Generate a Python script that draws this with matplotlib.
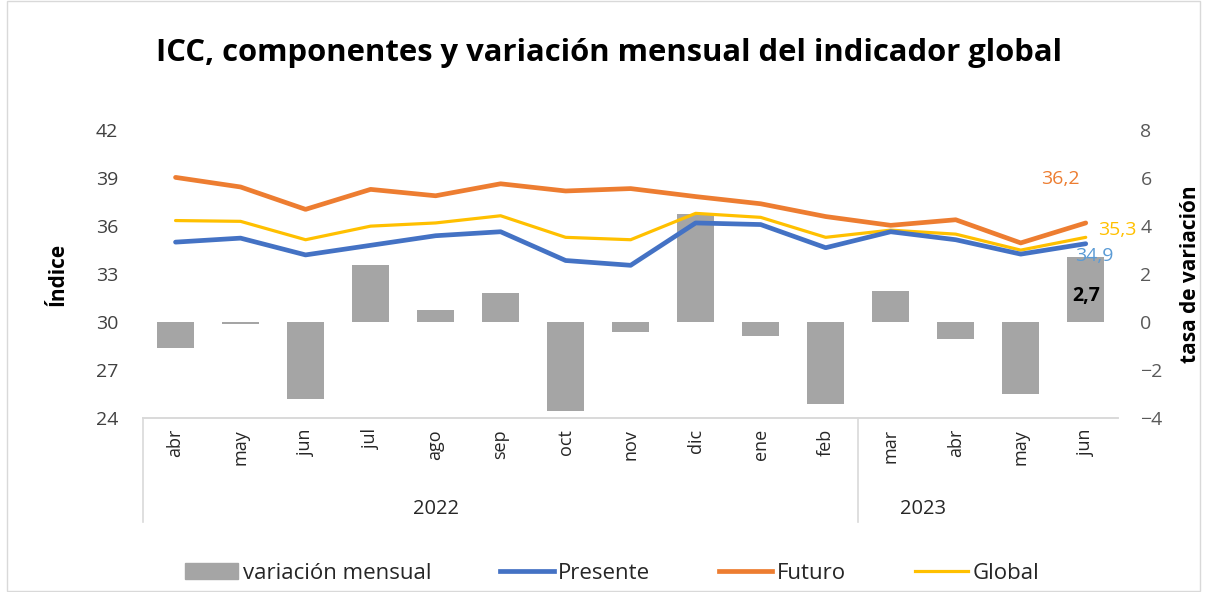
import matplotlib.pyplot as plt
from matplotlib.patches import Patch, Rectangle
from matplotlib.lines import Line2D
import matplotlib.transforms as mtransforms

plt.rcParams['font.family'] = ['Open Sans', 'DejaVu Sans']

meses = ['abr', 'may', 'jun', 'jul', 'ago', 'sep', 'oct', 'nov', 'dic',
         'ene', 'feb', 'mar', 'abr', 'may', 'jun']
anios = ['2022', '2023']
# index ranges of each year (for centring its label) and where the box divider sits
anio_rango = [(0, 8), (9, 14)]
divisor = 10.5

variacion = [-1.1, -0.1, -3.2, 2.4, 0.5, 1.2, -3.7, -0.4, 4.5, -0.6, -3.4,
             1.3, -0.7, -3.0, 2.7]
presente = [35.0, 35.25, 34.2, 34.8, 35.4, 35.65, 33.85, 33.55, 36.2, 36.1,
            34.65, 35.65, 35.15, 34.25, 34.9]
futuro = [39.05, 38.45, 37.05, 38.3, 37.9, 38.65, 38.2, 38.35, 37.85, 37.4,
          36.6, 36.05, 36.4, 34.95, 36.2]
glob = [36.35, 36.3, 35.15, 36.0, 36.2, 36.65, 35.3, 35.15, 36.8, 36.55,
        35.3, 35.75, 35.5, 34.5, 35.3]

c_bar = '#A5A5A5'
c_pre = '#4472C4'
c_fut = '#ED7D31'
c_glo = '#FFC000'

fig = plt.figure(figsize=(12.05, 5.92), dpi=100)
fig.patches.append(Rectangle((0.006, 0.002), 0.99, 0.996, transform=fig.transFigure,
                             fill=False, edgecolor='#D9D9D9', linewidth=1))

ax = fig.add_axes([0.1187, 0.294, 0.8093, 0.486])
x = list(range(len(meses)))

# bars on right axis (drawn below lines)
ax.bar(x, variacion, width=0.57, color=c_bar, zorder=2)
ax.set_ylim(-4, 8)
ax.set_yticks([-4, -2, 0, 2, 4, 6, 8])
ax.text(14, 1.1, '2,7', ha='center', va='center', fontsize=14, fontweight='bold',
        color='black', zorder=5)

ax2 = ax.twinx()
ax2.plot(x, futuro, color=c_fut, linewidth=3.4, solid_capstyle='round')
ax2.plot(x, glob, color=c_glo, linewidth=2.3, solid_capstyle='round')
ax2.plot(x, presente, color=c_pre, linewidth=3.4, solid_capstyle='round')
ax2.set_ylim(24, 42)
ax2.set_yticks([24, 27, 30, 33, 36, 39, 42])

# twinx moves the first axis ticks to the left, so swap sides after it
ax.yaxis.tick_right()
ax.yaxis.set_label_position('right')
ax.tick_params(axis='y', length=0, labelsize=14, labelcolor='#595959', pad=16)
ax.set_ylabel('tasa de variación', fontsize=15, fontweight='bold', labelpad=12)
ax2.yaxis.tick_left()
ax2.yaxis.set_label_position('left')
ax2.tick_params(axis='y', length=0, labelsize=14, labelcolor='#404040', pad=18)
ax2.set_ylabel('Índice', fontsize=15, fontweight='bold', labelpad=20)

ax2.annotate('36,2', (14, futuro[-1]), xytext=(-18, 32), textcoords='offset points',
             ha='center', va='center', fontsize=14, color=c_fut)
ax2.annotate('35,3', (14, glob[-1]), xytext=(9, 5), textcoords='offset points',
             ha='left', va='center', fontsize=14, color=c_glo)
ax2.annotate('34,9', (14, presente[-1]), xytext=(6, -9), textcoords='offset points',
             ha='center', va='center', fontsize=14, color='#5B9BD5')

for a in (ax, ax2):
    for s in ('top', 'left', 'right'):
        a.spines[s].set_visible(False)
    a.spines['bottom'].set_color('#D9D9D9')
    a.spines['bottom'].set_linewidth(1.2)

ax.set_xlim(-0.5, len(meses) - 0.5)
ax.set_xticks(x)
ax.set_xticklabels(meses, rotation=90, fontsize=13, color='#262626')
ax.tick_params(axis='x', length=0, pad=8)

# year groups below the month labels
trans = mtransforms.blended_transform_factory(ax.transData, ax.transAxes)
for xv in (-0.5, divisor):
    ax.plot([xv, xv], [0, -0.36], transform=trans, color='#D9D9D9', linewidth=1.2,
            clip_on=False)
for anio, (i0, i1) in zip(anios, anio_rango):
    ax.text((i0 + i1) / 2, -0.315, anio, transform=trans, ha='center',
            va='center', fontsize=14.5, color='#262626')

fig.text(0.505, 0.91, 'ICC, componentes y variación mensual del indicador global',
         ha='center', va='center', fontsize=22.3, fontweight='bold', color='black')

handles = [Patch(color=c_bar), Line2D([], [], color=c_pre, linewidth=3.4),
           Line2D([], [], color=c_fut, linewidth=3.4),
           Line2D([], [], color=c_glo, linewidth=2.3)]
fig.legend(handles, ['variación mensual', 'Presente', 'Futuro', 'Global'],
           loc='center', bbox_to_anchor=(0.508, 0.032), ncol=4, frameon=False,
           fontsize=16, handlelength=2.4, handletextpad=0.2, columnspacing=3.1,
           labelcolor='#262626')

fig.savefig('out.png', dpi=100)
